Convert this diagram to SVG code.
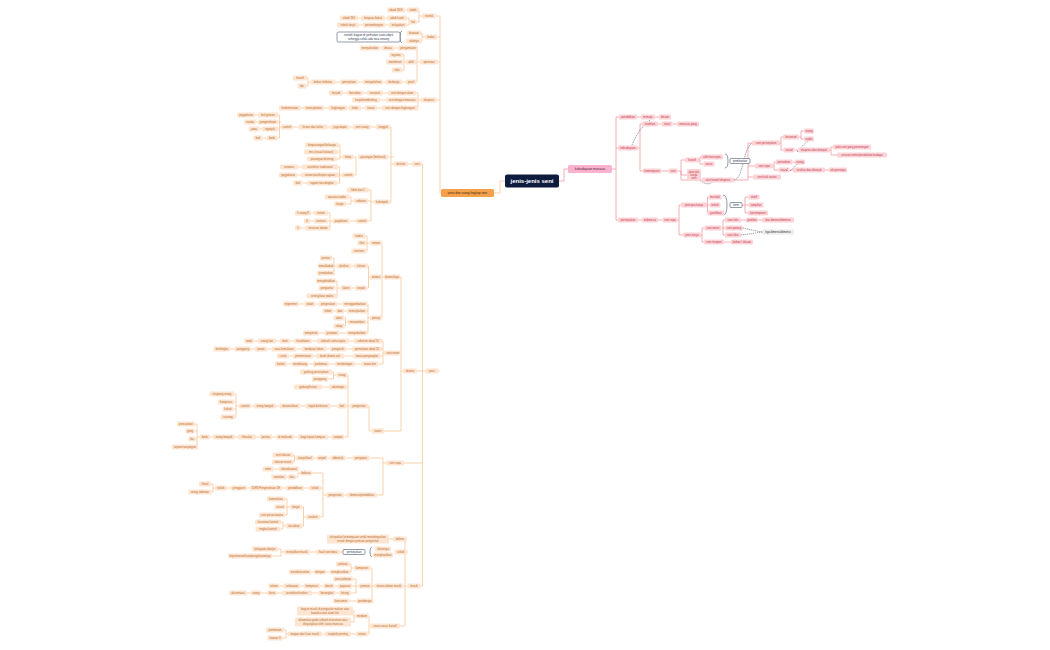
<svg xmlns="http://www.w3.org/2000/svg" width="1050" height="650" viewBox="0 0 1050 650">
<style>
text{font-family:"Liberation Sans",Arial,sans-serif;font-size:2.8px;text-anchor:middle}
.l rect{fill:#fde5d1}.l text{fill:#b86b2e}
.r rect{fill:#fcd4d8}.r text{fill:#c23a4a}
.le path{fill:none;stroke:#f8c596;stroke-width:0.8}
.re path{fill:none;stroke:#f39aa3;stroke-width:0.8}
.dash{fill:none;stroke:#2a3550;stroke-width:0.5;stroke-dasharray:1.2 0.8}
.box rect{fill:#fff;stroke:#2a3550;stroke-width:0.5}.box text{fill:#2a3550}
.br{fill:none;stroke:#2a3550;stroke-width:0.5}
</style>
<rect width="1050" height="650" fill="#fff"/>
<g class="le">
<path d="M494 193 H500 V181 H505"/>
<path d="M436 16 H440 V193 H441"/><path d="M437 37 H440"/><path d="M438 62 H440"/><path d="M437 100 H440"/><path d="M438.5 371 H440"/>
<path d="M419 10 H419 V16 H422"/><path d="M417 22 H419 V16"/>
<path d="M405 10 H407"/><path d="M407 18 H409 V25 H407"/><path d="M409 22 H409"/>
<path d="M385 18 H387"/><path d="M358 18 H361"/><path d="M385 25 H389"/><path d="M359 25 H363"/>
<path d="M421 33 H422 V41 H422"/><path d="M422 37 H425"/>
<path d="M418 48 H417 V82 H418"/><path d="M416 62 H420"/><path d="M394.5 48 H398"/><path d="M380 48 H381.5"/>
<path d="M403 55 H404 V70 H402"/><path d="M404 62 H406"/><path d="M402 82 H406"/><path d="M383 82 H386"/><path d="M358 82 H363"/><path d="M335.5 82 H340"/><path d="M307 78 H308 V86 H306.5"/><path d="M308 82 H310.5"/>
<path d="M416 93 H418 V108 H418"/><path d="M418 100 H421"/><path d="M383 93 H388"/><path d="M363 93 H367"/><path d="M343 93 H347"/><path d="M380 100 H386"/><path d="M377 108 H382"/><path d="M361 108 H365"/><path d="M347.5 108 H349"/><path d="M324 108 H328.5"/><path d="M301 108 H304"/>
<path d="M422 164 H422.5 V586 H420.5"/><path d="M417 371 H425.5"/><path d="M404 463 H422.5"/>
<path d="M408 164 H412"/><path d="M390 127 H391 V202 H390"/><path d="M388 157 H394"/><path d="M391 164 H394"/>
<path d="M371 127 H376"/><path d="M349.5 127 H353"/><path d="M327.5 127 H330.5"/><path d="M293 127 H298.5"/>
<path d="M278 115 H279.5 V138 H277.5"/><path d="M278 122 H281"/><path d="M278 129 H279.5"/><path d="M279.5 127 H281"/>
<path d="M255 115 H258"/><path d="M256 122 H258"/><path d="M259.5 129 H262"/><path d="M262.5 138 H266.5"/>
<path d="M353.5 157 H356 V175 H354"/><path d="M339 145 H340 V159 H337"/><path d="M338 152 H340"/><path d="M340 157 H342.5"/>
<path d="M338 167 H339.5 V183 H337"/><path d="M339 175 H342"/><path d="M298 167 H302"/><path d="M297 175 H301"/><path d="M302.5 183 H307"/>
<path d="M369 190 H371 V221 H368"/><path d="M368 201 H371"/><path d="M371 202 H374"/>
<path d="M349.5 197 H351 V204 H346"/><path d="M351 201 H354"/>
<path d="M349.5 221 H356"/><path d="M328 213 H330 V228 H330.5"/><path d="M328 221 H332.5"/><path d="M311 213 H314"/><path d="M310 221 H314"/><path d="M301 228 H305.5"/>
<path d="M400 277 H401 V431 H384.5"/><path d="M402 353 H401"/><path d="M401 371 H403"/>
<path d="M382 243 H382 V318 H382"/><path d="M382 277 H384"/>
<path d="M365.5 236 H367 V251 H366.5"/><path d="M366.5 243 H370"/>
<path d="M368 266 H368.5 V288 H367"/><path d="M368.5 277 H370"/>
<path d="M351.5 266 H354"/><path d="M332 258 H334 V273 H335"/><path d="M334 266 H336.5"/>
<path d="M351.5 288 H355"/><path d="M336 281 H337 V296 H337.5"/><path d="M337 288 H340.5"/>
<path d="M367.5 304 H368 V333 H367"/><path d="M367 311 H368"/><path d="M366 322 H368"/><path d="M368 318 H370"/>
<path d="M337.5 304 H342.5"/><path d="M315.5 304 H318.5"/><path d="M299 304 H304.5"/><path d="M344 311 H347"/><path d="M333.5 311 H336"/>
<path d="M344.5 318 H345.5 V326 H344.5"/><path d="M345.5 322 H348"/><path d="M339.5 333 H347"/><path d="M319 333 H324.5"/>
<path d="M382 341 H383 V364 H378.5"/><path d="M382 349 H383"/><path d="M380.5 356 H383"/><path d="M383 353 H384"/>
<path d="M349 341 H354"/><path d="M312 341 H317"/><path d="M290 341 H294"/><path d="M276 341 H280"/><path d="M254 341 H258"/>
<path d="M346 349 H352"/><path d="M326.5 349 H330"/><path d="M296.5 349 H301.5"/><path d="M267 349 H271.5"/><path d="M251 349 H255"/><path d="M230.5 349 H235"/>
<path d="M344 356 H353.5"/><path d="M313 356 H316"/><path d="M289 356 H293"/>
<path d="M355 364 H361.5"/><path d="M329 364 H335"/><path d="M308 364 H313"/><path d="M287 364 H292"/>
<path d="M368 406 H369 V431 H371.5"/>
<path d="M347.5 375 H348 V437 H344.5"/><path d="M347 387 H348"/><path d="M346.5 406 H350"/>
<path d="M332 372 H333.5 V379 H328"/><path d="M333.5 375 H336.5"/><path d="M322 387 H329"/>
<path d="M330.5 406 H337.5"/><path d="M300.5 406 H305.5"/><path d="M276 406 H279.5"/><path d="M251 406 H254"/>
<path d="M234.5 394 H236 V417 H235.5"/><path d="M234 402 H236"/><path d="M233.5 409 H236"/><path d="M236 406 H239"/>
<path d="M328 437 H331.5"/><path d="M294 437 H298"/><path d="M272 437 H276"/><path d="M256 437 H260"/><path d="M235 437 H238"/><path d="M210 437 H213"/>
<path d="M195 424 H197 V447 H198"/><path d="M194.5 431 H197"/><path d="M195.5 439 H197"/><path d="M197 437 H200"/>
<path d="M369.5 458 H383 V495 H377"/><path d="M383 463 H386"/>
<path d="M345.5 458 H352.5"/><path d="M327.5 458 H330.5"/><path d="M314 458 H316.5"/><path d="M293.5 455 H294.5 V462 H294"/><path d="M294.5 458 H296"/>
<path d="M344 495 H347"/><path d="M312 473 H323 V517 H320"/><path d="M321 488 H323"/><path d="M323 495 H326"/>
<path d="M299 469 H299.5"/><path d="M296 477 H298 V473 H300"/><path d="M286.5 477 H288"/><path d="M273.5 469 H279"/>
<path d="M304 488 H309"/><path d="M282 488 H286"/><path d="M247 488 H250"/><path d="M227 488 H231"/><path d="M211 484 H213 V492 H211.5"/><path d="M213 488 H215"/>
<path d="M302 507 H303.5 V526 H302.5"/><path d="M303.5 517 H306"/>
<path d="M285 499 H287 V515 H285"/><path d="M285.5 507 H290"/><path d="M281 522 H283 V529 H280.5"/><path d="M283 526 H285.5"/>
<path d="M407 539 H405 V626 H400"/><path d="M407.5 552 H405"/><path d="M403 586 H407.5"/>
<path d="M389 539 H393"/>
<path d="M340 552 H343"/><path d="M310 552 H316"/><path d="M278 549 H281 V556 H272"/><path d="M281 552 H284"/>
<path d="M370 568 H372 V601 H373.5"/><path d="M371 586 H375"/>
<path d="M350 564 H351 V572 H350"/><path d="M351 568 H354"/><path d="M326 572 H330"/><path d="M311 572 H314"/>
<path d="M353 579 H356 V593 H351"/><path d="M352 586 H359"/>
<path d="M334.5 586 H338"/><path d="M320 586 H323.5"/><path d="M300.5 586 H304"/><path d="M279.5 586 H283.5"/>
<path d="M335.5 593 H339"/><path d="M312 593 H318.5"/><path d="M277 593 H282"/><path d="M261 593 H267"/><path d="M247 593 H251"/>
<path d="M349 601 H356.5"/>
<path d="M368.5 616 H369 V634 H368"/>
<path d="M353 611 H354 V622 H351"/><path d="M354 616 H355.5"/>
<path d="M351 634 H356"/><path d="M322 634 H325"/><path d="M284 630 H286 V638 H282.5"/><path d="M286 634 H288"/>
</g>
<g class="re">
<path d="M559 181 H564 V169 H568"/>
<path d="M612 169 H616 V117 H619"/><path d="M616 148 H618"/><path d="M616 169 V220 H618"/>
<path d="M637 117 H641"/><path d="M655 117 H659"/>
<path d="M638 148 H640 V124 H642"/><path d="M640 148 V171 H643"/>
<path d="M658 124 H661.5"/><path d="M672.5 124 H677"/><path d="M661 171 H668.5"/>
<path d="M677.5 171 H681 V160 H685"/><path d="M681 171 V175 H687"/><path d="M681 171 V180 H702"/>
<path d="M699 160 H700 V157 H701"/><path d="M700 160 V164 H703.5"/>
<path d="M734 180 H748 V143 H752"/><path d="M748 166 H755"/><path d="M748 177 H753"/>
<path d="M780 143 H781 V137 H783"/><path d="M781 143 V150 H783.5"/>
<path d="M799 137 H801 V131 H804"/><path d="M801 137 V139 H804"/>
<path d="M794.5 150 H798"/><path d="M830 150 H831 V147 H833"/><path d="M831 150 V155 H837"/>
<path d="M773 166 H774 V162 H775.5"/><path d="M774 166 V170 H778.5"/>
<path d="M792.5 162 H795"/><path d="M789.5 170 H793"/><path d="M825 170 H829"/>
<path d="M638 220 H642"/><path d="M658 220 H662.5"/>
<path d="M677.5 220 H679 V205 H681"/><path d="M679 220 V235 H683"/>
<path d="M707 205 H707.5 V197 H708.5"/><path d="M707.5 205 H709.5"/><path d="M707.5 205 V213 H707.5"/>
<path d="M742 205 H745 V197 H748.5"/><path d="M745 205 H748.5"/><path d="M745 205 V213 H748"/>
<path d="M701 235 H702 V228 H704.5"/><path d="M702 235 V242 H704"/>
<path d="M721.5 228 H723 V220 H725"/><path d="M723 228 H725"/><path d="M723 228 V235 H725"/>
<path d="M741 220 H746"/><path d="M758 220 H762"/><path d="M724 242 H731"/>
</g>
<path class="dash" d="M650 120 C640 128 636 136 632 145"/>
<path class="dash" d="M697 178 C705 186 712 184 712 182"/>
<path class="dash" d="M734 180 C744 178 742 150 752 143"/>
<path class="dash" d="M797 152 C802 146 806 142 809 141"/>
<path class="dash" d="M790 171 C795 167 797 163 799 164"/>
<path class="dash" d="M743 228 C752 230 756 231 762 232"/>
<path class="dash" d="M741 235 C750 234 756 233 762 232"/>
<path class="br" d="M402 31 Q400 31 400 37 Q400 43 402 43"/>
<path class="br" d="M372 547 Q370 547 370 552 Q370 557 372 557"/>
<path class="br" d="M725 154 Q728 154 728 161 Q728 168 725 168"/>
<path class="br" d="M723 195 Q727 195 727 205 Q727 215 723 215"/>
<g id="center"><rect x="505" y="174.5" width="54" height="13" rx="2" fill="#0d1b3e"/><text x="532" y="183" style="font-size:6px;font-weight:bold;fill:#fff">jenis-jenis seni</text></g>
<g id="main"><rect x="441" y="189" width="53" height="8" rx="1.5" fill="#f5a04a"/><text x="467.5" y="194.2" style="font-size:3.2px;fill:#3a2410">jenis dan ruang lingkup seni</text></g>
<g id="kebudayaan-manusia"><rect x="568" y="165" width="44" height="8" rx="1.5" fill="#f9b3cf"/><text x="590" y="170.2" style="font-size:3.2px;fill:#5a1a35">kebudayaan manusia</text></g>
<g class="box" id="box1"><rect x="337" y="32" width="63" height="10" rx="1.5"/><text x="368.5" y="36.2">contoh: bagian dr perhatian suatu objek</text><text x="368.5" y="39.8">sehingga selalu ada rasa senang</text></g>
<g class="box" id="box2"><rect x="343" y="549.5" width="22" height="5" rx="1"/><text x="354" y="553">pertunjukan</text></g>
<g class="box" id="box3"><rect x="730" y="158.5" width="20" height="5" rx="1"/><text x="740" y="162">pembuatan</text></g>
<g class="box" id="box4"><rect x="730" y="202.5" width="12" height="5" rx="1"/><text x="736" y="206">form</text></g>
<g id="tiga"><rect x="762" y="229.5" width="32" height="5" rx="1" fill="#ececec"/><text x="778" y="233" style="fill:#333">tiga dimensi/dimensi</text></g>
<g class="l">
<g id="n1"><rect x="422" y="13.5" width="14" height="5" rx="1.2"/><text x="429" y="17">estetik</text></g>
<g id="n2"><rect x="407" y="7.5" width="12" height="5" rx="1.2"/><text x="413" y="11">indah</text></g>
<g id="n3"><rect x="409" y="19.5" width="8" height="5" rx="1.2"/><text x="413" y="23">hal</text></g>
<g id="n4"><rect x="387" y="7.5" width="18" height="5" rx="1.2"/><text x="396" y="11">abadi SDS</text></g>
<g id="n5"><rect x="387" y="15.5" width="20" height="5" rx="1.2"/><text x="397" y="19">adab kualit</text></g>
<g id="n6"><rect x="389" y="22.5" width="18" height="5" rx="1.2"/><text x="398" y="26">kelayakan</text></g>
<g id="n7"><rect x="361" y="15.5" width="24" height="5" rx="1.2"/><text x="373" y="19">berpuas bakat</text></g>
<g id="n8"><rect x="340" y="15.5" width="18" height="5" rx="1.2"/><text x="349" y="19">abadi SDI</text></g>
<g id="n9"><rect x="363" y="22.5" width="22" height="5" rx="1.2"/><text x="374" y="26">pertambangan</text></g>
<g id="n10"><rect x="337" y="22.5" width="22" height="5" rx="1.2"/><text x="348" y="26">teknik lanjut</text></g>
<g id="n11"><rect x="425" y="34.5" width="12" height="5" rx="1.2"/><text x="431" y="38">bakat</text></g>
<g id="n12"><rect x="407" y="30.5" width="14" height="5" rx="1.2"/><text x="414" y="34">bawaan</text></g>
<g id="n13"><rect x="406" y="38.5" width="16" height="5" rx="1.2"/><text x="414" y="42">sifatnya</text></g>
<g id="n14"><rect x="420" y="59.5" width="18" height="5" rx="1.2"/><text x="429" y="63">apresiasi</text></g>
<g id="n15"><rect x="398" y="45.5" width="20" height="5" rx="1.2"/><text x="408" y="49">pengamatan</text></g>
<g id="n16"><rect x="406" y="59.5" width="10" height="5" rx="1.2"/><text x="411" y="63">aktif</text></g>
<g id="n17"><rect x="406" y="79.5" width="10" height="5" rx="1.2"/><text x="411" y="83">pasif</text></g>
<g id="n18"><rect x="381.5" y="45.5" width="13" height="5" rx="1.2"/><text x="388" y="49">dirasa</text></g>
<g id="n19"><rect x="360" y="45.5" width="20" height="5" rx="1.2"/><text x="370" y="49">menyaksikan</text></g>
<g id="n20"><rect x="389" y="52.5" width="14" height="5" rx="1.2"/><text x="396" y="56">ingatan</text></g>
<g id="n21"><rect x="386" y="59.5" width="18" height="5" rx="1.2"/><text x="395" y="63">menikmati</text></g>
<g id="n22"><rect x="392" y="67.5" width="10" height="5" rx="1.2"/><text x="397" y="71">nilai</text></g>
<g id="n23"><rect x="386" y="79.5" width="16" height="5" rx="1.2"/><text x="394" y="83">berkarya</text></g>
<g id="n24"><rect x="363" y="79.5" width="20" height="5" rx="1.2"/><text x="373" y="83">menyalurkan</text></g>
<g id="n25"><rect x="340" y="79.5" width="18" height="5" rx="1.2"/><text x="349" y="83">penciptaan</text></g>
<g id="n26"><rect x="310.5" y="79.5" width="25" height="5" rx="1.2"/><text x="323" y="83">bebas terbatas</text></g>
<g id="n27"><rect x="293" y="75.5" width="14" height="5" rx="1.2"/><text x="300" y="79">kreatif</text></g>
<g id="n28"><rect x="297.5" y="83.5" width="9" height="5" rx="1.2"/><text x="302" y="87">ide</text></g>
<g id="n29"><rect x="421" y="97.5" width="16" height="5" rx="1.2"/><text x="429" y="101">ekspresi</text></g>
<g id="n30"><rect x="388" y="90.5" width="28" height="5" rx="1.2"/><text x="402" y="94">seni dengan alam</text></g>
<g id="n31"><rect x="386" y="97.5" width="32" height="5" rx="1.2"/><text x="402" y="101">seni dengan manusia</text></g>
<g id="n32"><rect x="382" y="105.5" width="36" height="5" rx="1.2"/><text x="400" y="109">seni dengan lingkungan</text></g>
<g id="n33"><rect x="367" y="90.5" width="16" height="5" rx="1.2"/><text x="375" y="94">teruntuk</text></g>
<g id="n34"><rect x="347" y="90.5" width="16" height="5" rx="1.2"/><text x="355" y="94">bersebra</text></g>
<g id="n35"><rect x="329" y="90.5" width="14" height="5" rx="1.2"/><text x="336" y="94">kerjadi</text></g>
<g id="n36"><rect x="352" y="97.5" width="28" height="5" rx="1.2"/><text x="366" y="101">kerja/membelong</text></g>
<g id="n37"><rect x="365" y="105.5" width="12" height="5" rx="1.2"/><text x="371" y="109">kasar</text></g>
<g id="n38"><rect x="349" y="105.5" width="12" height="5" rx="1.2"/><text x="355" y="109">itube</text></g>
<g id="n39"><rect x="328.5" y="105.5" width="19" height="5" rx="1.2"/><text x="338" y="109">lingkungan</text></g>
<g id="n40"><rect x="304" y="105.5" width="20" height="5" rx="1.2"/><text x="314" y="109">menciptakan</text></g>
<g id="n41"><rect x="279" y="105.5" width="22" height="5" rx="1.2"/><text x="290" y="109">berketentuan</text></g>
<g id="n42"><rect x="425.5" y="368.5" width="13" height="5" rx="1.2"/><text x="432" y="372">jenis</text></g>
<g id="n43"><rect x="412" y="161.5" width="10" height="5" rx="1.2"/><text x="417" y="165">seni</text></g>
<g id="n44"><rect x="394" y="161.5" width="14" height="5" rx="1.2"/><text x="401" y="165">bentuk</text></g>
<g id="n45"><rect x="376" y="124.5" width="14" height="5" rx="1.2"/><text x="383" y="128">tunggal</text></g>
<g id="n46"><rect x="358" y="154.5" width="30" height="5" rx="1.2"/><text x="373" y="158">pasangan (berkurul)</text></g>
<g id="n47"><rect x="374" y="199.5" width="16" height="5" rx="1.2"/><text x="382" y="203">kelompok</text></g>
<g id="n48"><rect x="353" y="124.5" width="18" height="5" rx="1.2"/><text x="362" y="128">seni ruang</text></g>
<g id="n49"><rect x="330.5" y="124.5" width="19" height="5" rx="1.2"/><text x="340" y="128">juga dapat</text></g>
<g id="n50"><rect x="298.5" y="124.5" width="29" height="5" rx="1.2"/><text x="313" y="128">lestari dan kultur</text></g>
<g id="n51"><rect x="281" y="124.5" width="12" height="5" rx="1.2"/><text x="287" y="128">contoh</text></g>
<g id="n52"><rect x="258" y="112.5" width="20" height="5" rx="1.2"/><text x="268" y="116">bali gitaran</text></g>
<g id="n53"><rect x="258" y="119.5" width="20" height="5" rx="1.2"/><text x="268" y="123">pengetahuan</text></g>
<g id="n54"><rect x="262" y="126.5" width="16" height="5" rx="1.2"/><text x="270" y="130">nganjuk</text></g>
<g id="n55"><rect x="266.5" y="135.5" width="11" height="5" rx="1.2"/><text x="272" y="139">batik</text></g>
<g id="n56"><rect x="237" y="112.5" width="18" height="5" rx="1.2"/><text x="246" y="116">yogyakarta</text></g>
<g id="n57"><rect x="244" y="119.5" width="12" height="5" rx="1.2"/><text x="250" y="123">sunda</text></g>
<g id="n58"><rect x="248.5" y="126.5" width="11" height="5" rx="1.2"/><text x="254" y="130">jawa</text></g>
<g id="n59"><rect x="253.5" y="135.5" width="9" height="5" rx="1.2"/><text x="258" y="139">bali</text></g>
<g id="n60"><rect x="342.5" y="154.5" width="11" height="5" rx="1.2"/><text x="348" y="158">tema</text></g>
<g id="n61"><rect x="342" y="172.5" width="12" height="5" rx="1.2"/><text x="348" y="176">contoh</text></g>
<g id="n62"><rect x="305" y="142.5" width="34" height="5" rx="1.2"/><text x="322" y="146">berpasangan/keluarga</text></g>
<g id="n63"><rect x="304" y="149.5" width="34" height="5" rx="1.2"/><text x="321" y="153">imis (visual lukisan)</text></g>
<g id="n64"><rect x="307" y="156.5" width="30" height="5" rx="1.2"/><text x="322" y="160">pasangan berteng</text></g>
<g id="n65"><rect x="302" y="164.5" width="36" height="5" rx="1.2"/><text x="320" y="168">arsitektur tradisional</text></g>
<g id="n66"><rect x="301" y="172.5" width="38" height="5" rx="1.2"/><text x="320" y="176">universitas/kepercayaan</text></g>
<g id="n67"><rect x="307" y="180.5" width="30" height="5" rx="1.2"/><text x="322" y="184">ragam tata dingkar</text></g>
<g id="n68"><rect x="280" y="164.5" width="18" height="5" rx="1.2"/><text x="289" y="168">sumatra</text></g>
<g id="n69"><rect x="279" y="172.5" width="18" height="5" rx="1.2"/><text x="288" y="176">yogyakarta</text></g>
<g id="n70"><rect x="293.5" y="180.5" width="9" height="5" rx="1.2"/><text x="298" y="184">bali</text></g>
<g id="n71"><rect x="347" y="187.5" width="22" height="5" rx="1.2"/><text x="358" y="191">lebih dari 2</text></g>
<g id="n72"><rect x="354" y="198.5" width="14" height="5" rx="1.2"/><text x="361" y="202">sebutan</text></g>
<g id="n73"><rect x="356" y="218.5" width="12" height="5" rx="1.2"/><text x="362" y="222">contoh</text></g>
<g id="n74"><rect x="324.5" y="194.5" width="25" height="5" rx="1.2"/><text x="337" y="198">wacana tradisi</text></g>
<g id="n75"><rect x="334" y="201.5" width="12" height="5" rx="1.2"/><text x="340" y="205">fungsi</text></g>
<g id="n76"><rect x="332.5" y="218.5" width="17" height="5" rx="1.2"/><text x="341" y="222">pagelaran</text></g>
<g id="n77"><rect x="314" y="210.5" width="14" height="5" rx="1.2"/><text x="321" y="214">teritori</text></g>
<g id="n78"><rect x="314" y="218.5" width="14" height="5" rx="1.2"/><text x="321" y="222">sintesis</text></g>
<g id="n79"><rect x="305.5" y="225.5" width="25" height="5" rx="1.2"/><text x="318" y="229">tersusun dalam</text></g>
<g id="n80"><rect x="295" y="210.5" width="16" height="5" rx="1.2"/><text x="303" y="214">5 orang 8</text></g>
<g id="n81"><rect x="304" y="218.5" width="6" height="5" rx="1.2"/><text x="307" y="222">6</text></g>
<g id="n82"><rect x="295" y="225.5" width="6" height="5" rx="1.2"/><text x="298" y="229">5</text></g>
<g id="n83"><rect x="403" y="368.5" width="14" height="5" rx="1.2"/><text x="410" y="372">drama</text></g>
<g id="n84"><rect x="384" y="274.5" width="16" height="5" rx="1.2"/><text x="392" y="278">drama/lagu</text></g>
<g id="n85"><rect x="384" y="350.5" width="18" height="5" rx="1.2"/><text x="393" y="354">seni teater</text></g>
<g id="n86"><rect x="371.5" y="428.5" width="13" height="5" rx="1.2"/><text x="378" y="432">teater</text></g>
<g id="n87"><rect x="370" y="240.5" width="12" height="5" rx="1.2"/><text x="376" y="244">umum</text></g>
<g id="n88"><rect x="370" y="274.5" width="12" height="5" rx="1.2"/><text x="376" y="278">drama</text></g>
<g id="n89"><rect x="370" y="315.5" width="12" height="5" rx="1.2"/><text x="376" y="319">prinsip</text></g>
<g id="n90"><rect x="352.5" y="233.5" width="13" height="5" rx="1.2"/><text x="359" y="237">tradisi</text></g>
<g id="n91"><rect x="357.5" y="240.5" width="9" height="5" rx="1.2"/><text x="362" y="244">fiksi</text></g>
<g id="n92"><rect x="351.5" y="248.5" width="15" height="5" rx="1.2"/><text x="359" y="252">sinetron</text></g>
<g id="n93"><rect x="354" y="263.5" width="14" height="5" rx="1.2"/><text x="361" y="267">tulisan</text></g>
<g id="n94"><rect x="355" y="285.5" width="12" height="5" rx="1.2"/><text x="361" y="289">wujud</text></g>
<g id="n95"><rect x="336.5" y="263.5" width="15" height="5" rx="1.2"/><text x="344" y="267">direktur</text></g>
<g id="n96"><rect x="320" y="255.5" width="12" height="5" rx="1.2"/><text x="326" y="259">pentas</text></g>
<g id="n97"><rect x="318" y="263.5" width="16" height="5" rx="1.2"/><text x="326" y="267">tema/babak</text></g>
<g id="n98"><rect x="317" y="270.5" width="18" height="5" rx="1.2"/><text x="326" y="274">penokohan</text></g>
<g id="n99"><rect x="340.5" y="285.5" width="11" height="5" rx="1.2"/><text x="346" y="289">lakon</text></g>
<g id="n100"><rect x="316" y="278.5" width="20" height="5" rx="1.2"/><text x="326" y="282">menyebabkan</text></g>
<g id="n101"><rect x="318.5" y="285.5" width="17" height="5" rx="1.2"/><text x="327" y="289">pengantar</text></g>
<g id="n102"><rect x="306.5" y="293.5" width="31" height="5" rx="1.2"/><text x="322" y="297">setting/latar waktu</text></g>
<g id="n103"><rect x="342.5" y="301.5" width="25" height="5" rx="1.2"/><text x="355" y="305">menggambarkan</text></g>
<g id="n104"><rect x="347" y="308.5" width="20" height="5" rx="1.2"/><text x="357" y="312">menciptakan</text></g>
<g id="n105"><rect x="348" y="319.5" width="18" height="5" rx="1.2"/><text x="357" y="323">menantikan</text></g>
<g id="n106"><rect x="347" y="330.5" width="20" height="5" rx="1.2"/><text x="357" y="334">menyebutkan</text></g>
<g id="n107"><rect x="318.5" y="301.5" width="19" height="5" rx="1.2"/><text x="328" y="305">pergerakan</text></g>
<g id="n108"><rect x="304.5" y="301.5" width="11" height="5" rx="1.2"/><text x="310" y="305">tokoh</text></g>
<g id="n109"><rect x="283" y="301.5" width="16" height="5" rx="1.2"/><text x="291" y="305">mipermer</text></g>
<g id="n110"><rect x="336" y="308.5" width="8" height="5" rx="1.2"/><text x="340" y="312">dan</text></g>
<g id="n111"><rect x="322.5" y="308.5" width="11" height="5" rx="1.2"/><text x="328" y="312">tokoh</text></g>
<g id="n112"><rect x="333.5" y="315.5" width="11" height="5" rx="1.2"/><text x="339" y="319">aktor</text></g>
<g id="n113"><rect x="333.5" y="323.5" width="11" height="5" rx="1.2"/><text x="339" y="327">sikap</text></g>
<g id="n114"><rect x="324.5" y="330.5" width="15" height="5" rx="1.2"/><text x="332" y="334">peranan</text></g>
<g id="n115"><rect x="303" y="330.5" width="16" height="5" rx="1.2"/><text x="311" y="334">menyimak</text></g>
<g id="n116"><rect x="354" y="338.5" width="28" height="5" rx="1.2"/><text x="368" y="342">sebelum abad 20</text></g>
<g id="n117"><rect x="352" y="346.5" width="30" height="5" rx="1.2"/><text x="367" y="350">permulaan abad 20</text></g>
<g id="n118"><rect x="353.5" y="353.5" width="27" height="5" rx="1.2"/><text x="367" y="357">masa pengangkat</text></g>
<g id="n119"><rect x="361.5" y="361.5" width="17" height="5" rx="1.2"/><text x="370" y="365">masa kini</text></g>
<g id="n120"><rect x="317" y="338.5" width="32" height="5" rx="1.2"/><text x="333" y="342">sebuah cerita nyata</text></g>
<g id="n121"><rect x="294" y="338.5" width="18" height="5" rx="1.2"/><text x="303" y="342">kesehatan</text></g>
<g id="n122"><rect x="280" y="338.5" width="10" height="5" rx="1.2"/><text x="285" y="342">duet</text></g>
<g id="n123"><rect x="258" y="338.5" width="18" height="5" rx="1.2"/><text x="267" y="342">orang lain</text></g>
<g id="n124"><rect x="244" y="338.5" width="10" height="5" rx="1.2"/><text x="249" y="342">anak</text></g>
<g id="n125"><rect x="330" y="346.5" width="16" height="5" rx="1.2"/><text x="338" y="350">pengaruh</text></g>
<g id="n126"><rect x="301.5" y="346.5" width="25" height="5" rx="1.2"/><text x="314" y="350">berdasar lakon</text></g>
<g id="n127"><rect x="271.5" y="346.5" width="25" height="5" rx="1.2"/><text x="284" y="350">rasa kemuliaan</text></g>
<g id="n128"><rect x="255" y="346.5" width="12" height="5" rx="1.2"/><text x="261" y="350">peran</text></g>
<g id="n129"><rect x="235" y="346.5" width="16" height="5" rx="1.2"/><text x="243" y="350">panggung</text></g>
<g id="n130"><rect x="213.5" y="346.5" width="17" height="5" rx="1.2"/><text x="222" y="350">berlengku</text></g>
<g id="n131"><rect x="316" y="353.5" width="28" height="5" rx="1.2"/><text x="330" y="357">kisah drama asli</text></g>
<g id="n132"><rect x="293" y="353.5" width="20" height="5" rx="1.2"/><text x="303" y="357">pementasan</text></g>
<g id="n133"><rect x="277" y="353.5" width="12" height="5" rx="1.2"/><text x="283" y="357">cerita</text></g>
<g id="n134"><rect x="335" y="361.5" width="20" height="5" rx="1.2"/><text x="345" y="365">berdetingan</text></g>
<g id="n135"><rect x="313" y="361.5" width="16" height="5" rx="1.2"/><text x="321" y="365">perkemas</text></g>
<g id="n136"><rect x="292" y="361.5" width="16" height="5" rx="1.2"/><text x="300" y="365">membuang</text></g>
<g id="n137"><rect x="275" y="361.5" width="12" height="5" rx="1.2"/><text x="281" y="365">bakati</text></g>
<g id="n138"><rect x="350" y="403.5" width="18" height="5" rx="1.2"/><text x="359" y="407">pengertian</text></g>
<g id="n139"><rect x="336.5" y="372.5" width="11" height="5" rx="1.2"/><text x="342" y="376">ruang</text></g>
<g id="n140"><rect x="329" y="384.5" width="18" height="5" rx="1.2"/><text x="338" y="388">arkeologis</text></g>
<g id="n141"><rect x="337.5" y="403.5" width="9" height="5" rx="1.2"/><text x="342" y="407">fuel</text></g>
<g id="n142"><rect x="331.5" y="434.5" width="13" height="5" rx="1.2"/><text x="338" y="438">sampai</text></g>
<g id="n143"><rect x="300" y="369.5" width="32" height="5" rx="1.2"/><text x="316" y="373">gedung pertunjukan</text></g>
<g id="n144"><rect x="312" y="376.5" width="16" height="5" rx="1.2"/><text x="320" y="380">panggung</text></g>
<g id="n145"><rect x="294" y="384.5" width="28" height="5" rx="1.2"/><text x="308" y="388">gedung/lestari</text></g>
<g id="n146"><rect x="305.5" y="403.5" width="25" height="5" rx="1.2"/><text x="318" y="407">tegak berkesan</text></g>
<g id="n147"><rect x="279.5" y="403.5" width="21" height="5" rx="1.2"/><text x="290" y="407">disemulukan</text></g>
<g id="n148"><rect x="254" y="403.5" width="22" height="5" rx="1.2"/><text x="265" y="407">orang banyak</text></g>
<g id="n149"><rect x="239" y="403.5" width="12" height="5" rx="1.2"/><text x="245" y="407">contoh</text></g>
<g id="n150"><rect x="209.5" y="391.5" width="25" height="5" rx="1.2"/><text x="222" y="395">tutupung orang</text></g>
<g id="n151"><rect x="218" y="399.5" width="16" height="5" rx="1.2"/><text x="226" y="403">kampisau</text></g>
<g id="n152"><rect x="222.5" y="406.5" width="11" height="5" rx="1.2"/><text x="228" y="410">kukuk</text></g>
<g id="n153"><rect x="220.5" y="414.5" width="15" height="5" rx="1.2"/><text x="228" y="418">tuturing</text></g>
<g id="n154"><rect x="298" y="434.5" width="30" height="5" rx="1.2"/><text x="313" y="438">bagi tujuan kompas</text></g>
<g id="n155"><rect x="276" y="434.5" width="18" height="5" rx="1.2"/><text x="285" y="438">di maksudi</text></g>
<g id="n156"><rect x="260" y="434.5" width="12" height="5" rx="1.2"/><text x="266" y="438">pentas</text></g>
<g id="n157"><rect x="238" y="434.5" width="18" height="5" rx="1.2"/><text x="247" y="438">fikesikai</text></g>
<g id="n158"><rect x="213" y="434.5" width="22" height="5" rx="1.2"/><text x="224" y="438">orang banyak</text></g>
<g id="n159"><rect x="200" y="434.5" width="10" height="5" rx="1.2"/><text x="205" y="438">berlu</text></g>
<g id="n160"><rect x="177" y="421.5" width="18" height="5" rx="1.2"/><text x="186" y="425">pencatatan</text></g>
<g id="n161"><rect x="185.5" y="428.5" width="9" height="5" rx="1.2"/><text x="190" y="432">geng</text></g>
<g id="n162"><rect x="188.5" y="436.5" width="7" height="5" rx="1.2"/><text x="192" y="440">kia</text></g>
<g id="n163"><rect x="172" y="444.5" width="26" height="5" rx="1.2"/><text x="185" y="448">sepatu/sanjangan</text></g>
<g id="n164"><rect x="386" y="460.5" width="18" height="5" rx="1.2"/><text x="395" y="464">seni rupa</text></g>
<g id="n165"><rect x="352.5" y="455.5" width="17" height="5" rx="1.2"/><text x="361" y="459">penyajian</text></g>
<g id="n166"><rect x="347" y="492.5" width="30" height="5" rx="1.2"/><text x="362" y="496">dimensi/pendidikan</text></g>
<g id="n167"><rect x="330.5" y="455.5" width="15" height="5" rx="1.2"/><text x="338" y="459">dibentuk</text></g>
<g id="n168"><rect x="316.5" y="455.5" width="11" height="5" rx="1.2"/><text x="322" y="459">wujud</text></g>
<g id="n169"><rect x="296" y="455.5" width="18" height="5" rx="1.2"/><text x="305" y="459">karya/hasil</text></g>
<g id="n170"><rect x="272.5" y="452.5" width="21" height="5" rx="1.2"/><text x="283" y="456">seni lukisan</text></g>
<g id="n171"><rect x="272" y="459.5" width="22" height="5" rx="1.2"/><text x="283" y="463">lukisan musik</text></g>
<g id="n172"><rect x="326" y="492.5" width="18" height="5" rx="1.2"/><text x="335" y="496">pengertian</text></g>
<g id="n173"><rect x="300" y="470.5" width="12" height="5" rx="1.2"/><text x="306" y="474">bahasa</text></g>
<g id="n174"><rect x="309" y="485.5" width="12" height="5" rx="1.2"/><text x="315" y="489">istilah</text></g>
<g id="n175"><rect x="306" y="514.5" width="14" height="5" rx="1.2"/><text x="313" y="518">struktur</text></g>
<g id="n176"><rect x="279" y="466.5" width="20" height="5" rx="1.2"/><text x="289" y="470">interaksional</text></g>
<g id="n177"><rect x="288" y="474.5" width="8" height="5" rx="1.2"/><text x="292" y="478">kita</text></g>
<g id="n178"><rect x="271.5" y="474.5" width="15" height="5" rx="1.2"/><text x="279" y="478">simulasi</text></g>
<g id="n179"><rect x="262.5" y="466.5" width="11" height="5" rx="1.2"/><text x="268" y="470">ritme</text></g>
<g id="n180"><rect x="286" y="485.5" width="18" height="5" rx="1.2"/><text x="295" y="489">pendidikan</text></g>
<g id="n181"><rect x="250" y="485.5" width="32" height="5" rx="1.2"/><text x="266" y="489">IDEN Pengetahuan 1E</text></g>
<g id="n182"><rect x="231" y="485.5" width="16" height="5" rx="1.2"/><text x="239" y="489">pengganti</text></g>
<g id="n183"><rect x="215" y="485.5" width="12" height="5" rx="1.2"/><text x="221" y="489">istilah</text></g>
<g id="n184"><rect x="199" y="481.5" width="12" height="5" rx="1.2"/><text x="205" y="485">literal</text></g>
<g id="n185"><rect x="188.5" y="489.5" width="23" height="5" rx="1.2"/><text x="200" y="493">orang sebenar</text></g>
<g id="n186"><rect x="290" y="504.5" width="12" height="5" rx="1.2"/><text x="296" y="508">fungsi</text></g>
<g id="n187"><rect x="285.5" y="523.5" width="17" height="5" rx="1.2"/><text x="294" y="527">kesulitan</text></g>
<g id="n188"><rect x="267" y="496.5" width="18" height="5" rx="1.2"/><text x="276" y="500">komunikasi</text></g>
<g id="n189"><rect x="274.5" y="504.5" width="11" height="5" rx="1.2"/><text x="280" y="508">visual</text></g>
<g id="n190"><rect x="259" y="512.5" width="26" height="5" rx="1.2"/><text x="272" y="516">seni pesan warna</text></g>
<g id="n191"><rect x="255" y="519.5" width="26" height="5" rx="1.2"/><text x="268" y="523">kesenian kontrol</text></g>
<g id="n192"><rect x="255.5" y="526.5" width="25" height="5" rx="1.2"/><text x="268" y="530">tingkat kontrol</text></g>
<g id="n193"><rect x="407.5" y="583.5" width="13" height="5" rx="1.2"/><text x="414" y="587">musik</text></g>
<g id="n194"><rect x="393" y="536.5" width="14" height="5" rx="1.2"/><text x="400" y="540">definisi</text></g>
<g id="n195"><rect x="394.5" y="549.5" width="13" height="5" rx="1.2"/><text x="401" y="553">istilah</text></g>
<g id="n196"><rect x="375" y="583.5" width="28" height="5" rx="1.2"/><text x="389" y="587">musisi dalam musik</text></g>
<g id="n197"><rect x="370" y="623.5" width="30" height="5" rx="1.2"/><text x="385" y="627">unsur-unsur kreatif</text></g>
<g id="n198"><rect x="327" y="534.5" width="62" height="9" rx="1.2"/><text x="358" y="538">disepakati kemampuan untuk mendengarkan</text><text x="358" y="541.5">musik dengan pemain pengertian</text></g>
<g id="n199"><rect x="375" y="546.5" width="16" height="5" rx="1.2"/><text x="383" y="550">fakturnya</text></g>
<g id="n200"><rect x="373" y="552.5" width="20" height="5" rx="1.2"/><text x="383" y="556">menghasilkan</text></g>
<g id="n201"><rect x="316" y="549.5" width="24" height="5" rx="1.2"/><text x="328" y="553">hasil seni baru</text></g>
<g id="n202"><rect x="284" y="549.5" width="26" height="5" rx="1.2"/><text x="297" y="553">menjulkan musik</text></g>
<g id="n203"><rect x="252" y="546.5" width="26" height="5" rx="1.2"/><text x="265" y="550">kekayaan dan/ya</text></g>
<g id="n204"><rect x="228" y="553.5" width="44" height="5" rx="1.2"/><text x="250" y="557">keprimanan/lisan/pengukurannya</text></g>
<g id="n205"><rect x="354" y="565.5" width="16" height="5" rx="1.2"/><text x="362" y="569">komposer</text></g>
<g id="n206"><rect x="359" y="583.5" width="12" height="5" rx="1.2"/><text x="365" y="587">pemain</text></g>
<g id="n207"><rect x="356.5" y="598.5" width="17" height="5" rx="1.2"/><text x="365" y="602">pendengar</text></g>
<g id="n208"><rect x="336" y="561.5" width="14" height="5" rx="1.2"/><text x="343" y="565">pekerja</text></g>
<g id="n209"><rect x="330" y="569.5" width="20" height="5" rx="1.2"/><text x="340" y="573">menghasilkan</text></g>
<g id="n210"><rect x="314" y="569.5" width="12" height="5" rx="1.2"/><text x="320" y="573">dengan</text></g>
<g id="n211"><rect x="289" y="569.5" width="22" height="5" rx="1.2"/><text x="300" y="573">mendiskusikan</text></g>
<g id="n212"><rect x="333" y="576.5" width="20" height="5" rx="1.2"/><text x="343" y="580">para pekerja</text></g>
<g id="n213"><rect x="338" y="583.5" width="14" height="5" rx="1.2"/><text x="345" y="587">gagasan</text></g>
<g id="n214"><rect x="339" y="590.5" width="12" height="5" rx="1.2"/><text x="345" y="594">hitung</text></g>
<g id="n215"><rect x="323.5" y="583.5" width="11" height="5" rx="1.2"/><text x="329" y="587">bincik</text></g>
<g id="n216"><rect x="304" y="583.5" width="16" height="5" rx="1.2"/><text x="312" y="587">komposer</text></g>
<g id="n217"><rect x="283.5" y="583.5" width="17" height="5" rx="1.2"/><text x="292" y="587">selarasan</text></g>
<g id="n218"><rect x="268.5" y="583.5" width="11" height="5" rx="1.2"/><text x="274" y="587">rekam</text></g>
<g id="n219"><rect x="318.5" y="590.5" width="17" height="5" rx="1.2"/><text x="327" y="594">berangkat</text></g>
<g id="n220"><rect x="282" y="590.5" width="30" height="5" rx="1.2"/><text x="297" y="594">arsitektur/struktur</text></g>
<g id="n221"><rect x="267" y="590.5" width="10" height="5" rx="1.2"/><text x="272" y="594">kerta</text></g>
<g id="n222"><rect x="251" y="590.5" width="10" height="5" rx="1.2"/><text x="256" y="594">ruang</text></g>
<g id="n223"><rect x="229" y="590.5" width="18" height="5" rx="1.2"/><text x="238" y="594">aksentuasi</text></g>
<g id="n224"><rect x="333" y="598.5" width="16" height="5" rx="1.2"/><text x="341" y="602">konsumer</text></g>
<g id="n225"><rect x="355.5" y="613.5" width="13" height="5" rx="1.2"/><text x="362" y="617">medium</text></g>
<g id="n226"><rect x="356" y="631.5" width="12" height="5" rx="1.2"/><text x="362" y="635">notasi</text></g>
<g id="n227"><rect x="297" y="606.5" width="56" height="9" rx="1.2"/><text x="325" y="610">bagian musik di pengantar makan atau</text><text x="325" y="613.5">bawaha atau alam lisk</text></g>
<g id="n228"><rect x="295" y="617.5" width="56" height="9" rx="1.2"/><text x="323" y="621">dinamikan pada sebuah instrumen atau</text><text x="323" y="624.5">dinyanyikan oleh suara manusia</text></g>
<g id="n229"><rect x="325" y="631.5" width="26" height="5" rx="1.2"/><text x="338" y="635">tangkah penting</text></g>
<g id="n230"><rect x="288" y="631.5" width="34" height="5" rx="1.2"/><text x="305" y="635">bagian dari lisan musik</text></g>
<g id="n231"><rect x="266" y="627.5" width="18" height="5" rx="1.2"/><text x="275" y="631">permainan</text></g>
<g id="n232"><rect x="267.5" y="635.5" width="15" height="5" rx="1.2"/><text x="275" y="639">lisanan 3</text></g>
</g>
<g class="r">
<g id="r1"><rect x="619" y="114.5" width="18" height="5" rx="1.2"/><text x="628" y="118">pendidikan</text></g>
<g id="r2"><rect x="618" y="145.5" width="20" height="5" rx="1.2"/><text x="628" y="149">kebudayaan</text></g>
<g id="r3"><rect x="618" y="217.5" width="20" height="5" rx="1.2"/><text x="628" y="221">pertunjukan</text></g>
<g id="r4"><rect x="641" y="114.5" width="14" height="5" rx="1.2"/><text x="648" y="118">termaju</text></g>
<g id="r5"><rect x="659" y="114.5" width="12" height="5" rx="1.2"/><text x="665" y="118">ilmuan</text></g>
<g id="r6"><rect x="642" y="121.5" width="16" height="5" rx="1.2"/><text x="650" y="125">keahlian</text></g>
<g id="r7"><rect x="661.5" y="121.5" width="11" height="5" rx="1.2"/><text x="667" y="125">ritual</text></g>
<g id="r8"><rect x="677" y="121.5" width="22" height="5" rx="1.2"/><text x="688" y="125">manusia yang</text></g>
<g id="r9"><rect x="643" y="168.5" width="18" height="5" rx="1.2"/><text x="652" y="172">kemampuan</text></g>
<g id="r10"><rect x="668.5" y="168.5" width="9" height="5" rx="1.2"/><text x="673" y="172">seni</text></g>
<g id="r11"><rect x="685" y="157.5" width="14" height="5" rx="1.2"/><text x="692" y="161">kreatif</text></g>
<g id="r12"><rect x="687" y="169" width="14" height="12" rx="1.2"/><text x="694" y="172.5">pencipta</text><text x="694" y="175.5">karya</text><text x="694" y="178.5">seni</text></g>
<g id="r13"><rect x="701" y="154.5" width="22" height="5" rx="1.2"/><text x="712" y="158">aktif mencipta</text></g>
<g id="r14"><rect x="703.5" y="161.5" width="11" height="5" rx="1.2"/><text x="709" y="165">unsur</text></g>
<g id="r15"><rect x="702" y="177.5" width="32" height="5" rx="1.2"/><text x="718" y="181">seni kreatif ekspresi</text></g>
<g id="r16"><rect x="752" y="140.5" width="28" height="5" rx="1.2"/><text x="766" y="144">seni pertunjukan</text></g>
<g id="r17"><rect x="755" y="163.5" width="18" height="5" rx="1.2"/><text x="764" y="167">seni rupa</text></g>
<g id="r18"><rect x="753" y="174.5" width="28" height="5" rx="1.2"/><text x="767" y="178">seni fisik sastra</text></g>
<g id="r19"><rect x="783" y="134.5" width="16" height="5" rx="1.2"/><text x="791" y="138">kesenian</text></g>
<g id="r20"><rect x="783.5" y="147.5" width="11" height="5" rx="1.2"/><text x="789" y="151">visual</text></g>
<g id="r21"><rect x="804" y="128.5" width="10" height="5" rx="1.2"/><text x="809" y="132">ruang</text></g>
<g id="r22"><rect x="804" y="136.5" width="10" height="5" rx="1.2"/><text x="809" y="140">audio</text></g>
<g id="r23"><rect x="798" y="147.5" width="32" height="5" rx="1.2"/><text x="814" y="151">ekspresi dan ditunjuk</text></g>
<g id="r24"><rect x="833" y="144.5" width="38" height="5" rx="1.2"/><text x="852" y="148">pola seni yang perorangan</text></g>
<g id="r25"><rect x="837" y="152.5" width="50" height="5" rx="1.2"/><text x="862" y="156">sesuai estetis/perubahan budaya</text></g>
<g id="r26"><rect x="775.5" y="159.5" width="17" height="5" rx="1.2"/><text x="784" y="163">perunikan</text></g>
<g id="r27"><rect x="778.5" y="167.5" width="11" height="5" rx="1.2"/><text x="784" y="171">visual</text></g>
<g id="r28"><rect x="795" y="159.5" width="10" height="5" rx="1.2"/><text x="800" y="163">ruang</text></g>
<g id="r29"><rect x="793" y="167.5" width="32" height="5" rx="1.2"/><text x="809" y="171">struktur dan ditunjuk</text></g>
<g id="r30"><rect x="829" y="167.5" width="18" height="5" rx="1.2"/><text x="838" y="171">ekspresinya</text></g>
<g id="r31"><rect x="642" y="217.5" width="16" height="5" rx="1.2"/><text x="650" y="221">indonesia</text></g>
<g id="r32"><rect x="662.5" y="217.5" width="15" height="5" rx="1.2"/><text x="670" y="221">seni rupa</text></g>
<g id="r33"><rect x="681" y="202.5" width="26" height="5" rx="1.2"/><text x="694" y="206">pencipta karya</text></g>
<g id="r34"><rect x="683" y="232.5" width="18" height="5" rx="1.2"/><text x="692" y="236">jenis karya</text></g>
<g id="r35"><rect x="708.5" y="194.5" width="13" height="5" rx="1.2"/><text x="715" y="198">musikal</text></g>
<g id="r36"><rect x="709.5" y="202.5" width="11" height="5" rx="1.2"/><text x="715" y="206">teknik</text></g>
<g id="r37"><rect x="707.5" y="210.5" width="17" height="5" rx="1.2"/><text x="716" y="214">gratifikasi</text></g>
<g id="r38"><rect x="748.5" y="194.5" width="11" height="5" rx="1.2"/><text x="754" y="198">motif</text></g>
<g id="r39"><rect x="748.5" y="202.5" width="15" height="5" rx="1.2"/><text x="756" y="206">tampilan</text></g>
<g id="r40"><rect x="748" y="210.5" width="20" height="5" rx="1.2"/><text x="758" y="214">kontemporer</text></g>
<g id="r41"><rect x="704.5" y="225.5" width="17" height="5" rx="1.2"/><text x="713" y="229">seni murni</text></g>
<g id="r42"><rect x="704" y="239.5" width="20" height="5" rx="1.2"/><text x="714" y="243">seni terapan</text></g>
<g id="r43"><rect x="725" y="217.5" width="16" height="5" rx="1.2"/><text x="733" y="221">seni tulis</text></g>
<g id="r44"><rect x="725" y="225.5" width="18" height="5" rx="1.2"/><text x="734" y="229">seni patung</text></g>
<g id="r45"><rect x="725" y="232.5" width="16" height="5" rx="1.2"/><text x="733" y="236">seni lukis</text></g>
<g id="r46"><rect x="746" y="217.5" width="12" height="5" rx="1.2"/><text x="752" y="221">gambar</text></g>
<g id="r47"><rect x="762" y="217.5" width="32" height="5" rx="1.2"/><text x="778" y="221">dua dimensi/dimensi</text></g>
<g id="r48"><rect x="731" y="239.5" width="22" height="5" rx="1.2"/><text x="742" y="243">bahan / desain</text></g>
</g>
</svg>
